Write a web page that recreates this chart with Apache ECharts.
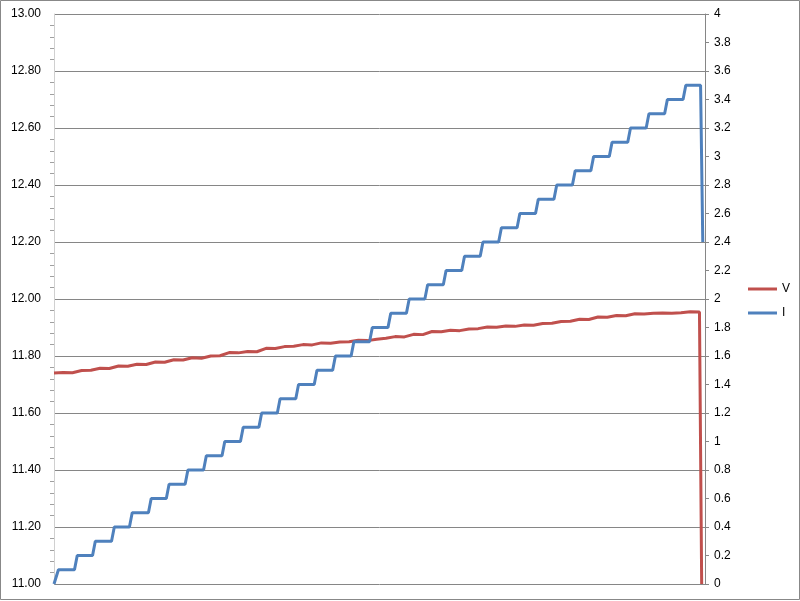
<!DOCTYPE html>
<html>
<head>
<meta charset="utf-8">
<script src="https://cdn.jsdelivr.net/npm/echarts@6/dist/echarts.min.js"></script>
<style>html,body{margin:0;padding:0;background:#fff}#c{width:800px;height:601px}</style>
</head>
<body>
<div id="c"></div>
<script>
// Time (sample units) of voltage readings
const vTime = [0,5,10,15,20,25,30,35,40,45,50,55,60,65,70,75,80,85,90,95,100,105,110,115,120,125,130,135,140,145,150,155,160,165,170,175,180,185,190,195,200,205,210,215,220,225,230,235,240,245,250,255,260,265,270,275,280,285,290,295,300,305,310,315,320,325,330,335,340,345,350,351.2];
// Voltage V (left axis)
const vVal = [11.740,11.742,11.741,11.749,11.750,11.757,11.756,11.765,11.764,11.771,11.770,11.779,11.778,11.787,11.786,11.794,11.792,11.800,11.801,11.812,11.811,11.816,11.815,11.827,11.826,11.833,11.834,11.840,11.839,11.846,11.845,11.849,11.850,11.855,11.854,11.859,11.862,11.868,11.867,11.876,11.875,11.886,11.885,11.890,11.889,11.895,11.896,11.902,11.901,11.905,11.904,11.909,11.908,11.914,11.915,11.921,11.922,11.929,11.928,11.937,11.936,11.942,11.941,11.948,11.947,11.950,11.951,11.950,11.952,11.955,11.954,11.0];
// Time of current step corners
const iTime = [0,0.5,2.4,
 11.1,12.6,20.9,22.4,31.2,32.7,40.9,42.4,51.2,52.7,60.9,62.4,71.1,72.6,81.1,82.6,91.1,92.6,
 101.1,102.6,111.1,112.6,121.1,122.6,131.1,132.6,141.1,142.6,151.1,152.6,161.1,162.6,171.1,172.6,181.1,182.6,191.1,192.6,
 201.1,202.6,211.1,212.6,221.1,222.6,231.1,232.6,241.1,242.6,251.1,252.6,261.1,262.6,271.1,272.6,281.1,282.6,291.1,292.6,
 301.1,302.6,311.1,312.6,321.1,322.6,331.1,332.6,341.1,342.6,
 350.6,351.8];
// Current I (right axis)
const iVal = [0,0,0.1,
 0.1,0.2,0.2,0.3,0.3,0.4,0.4,0.5,0.5,0.6,0.6,0.7,0.7,0.8,0.8,0.9,0.9,1.0,
 1.0,1.1,1.1,1.2,1.2,1.3,1.3,1.4,1.4,1.5,1.5,1.6,1.6,1.7,1.7,1.8,1.8,1.9,1.9,2.0,
 2.0,2.1,2.1,2.2,2.2,2.3,2.3,2.4,2.4,2.5,2.5,2.6,2.6,2.7,2.7,2.8,2.8,2.9,2.9,3.0,
 3.0,3.1,3.1,3.2,3.2,3.3,3.3,3.4,3.4,3.5,
 3.5,2.4];
const seriesNames = ['V','I'];

const vData = vTime.map((t,i)=>[t,vVal[i]]);
const iData = iTime.map((t,i)=>[t,iVal[i]]);
const FONT = 'Liberation Sans';
const chart = echarts.init(document.getElementById('c'), null, {renderer:'canvas'});
chart.setOption({
  animation:false,
  backgroundColor:'#fff',
  grid:{left:54,right:95,top:14,bottom:17},
  graphic:[{type:'rect',shape:{x:0.5,y:0.5,width:799,height:599},style:{fill:'none',stroke:'#888',lineWidth:1},silent:true}],
  legend:{orient:'vertical',left:743,top:278,itemGap:12,icon:'rect',itemWidth:29,itemHeight:3,
    textStyle:{fontFamily:FONT,fontSize:12,color:'#000'},data:seriesNames},
  xAxis:{type:'value',min:0,max:353,show:false},
  yAxis:[
    {type:'value',min:11,max:13,interval:0.2,position:'left',
     axisLine:{show:true,lineStyle:{color:'#d0d0d0',width:1}},
     axisTick:{show:false},
     minorTick:{show:true,splitNumber:5,length:4,lineStyle:{color:'#a0a0a0'}},
     splitLine:{show:true,lineStyle:{color:'#868686',width:1}},
     axisLabel:{fontFamily:FONT,fontSize:12,color:'#000',margin:13,formatter:v=>v.toFixed(2)}},
    {type:'value',min:0,max:4,interval:0.2,position:'right',
     axisLine:{show:true,lineStyle:{color:'#868686',width:1}},
     axisTick:{show:true,inside:false,length:4,lineStyle:{color:'#868686'}},
     splitLine:{show:false},
     axisLabel:{fontFamily:FONT,fontSize:12,color:'#000',margin:9,formatter:v=>String(Math.round(v*10)/10)}}
  ],
  series:[
    {name:'V',type:'line',yAxisIndex:0,data:vData,showSymbol:false,symbol:'none',
     lineStyle:{color:'#C0504D',width:3},itemStyle:{color:'#C0504D'}},
    {name:'I',type:'line',yAxisIndex:1,data:iData,showSymbol:false,symbol:'none',
     lineStyle:{color:'#4F81BD',width:3},itemStyle:{color:'#4F81BD'}}
  ]
});
</script>
</body>
</html>
